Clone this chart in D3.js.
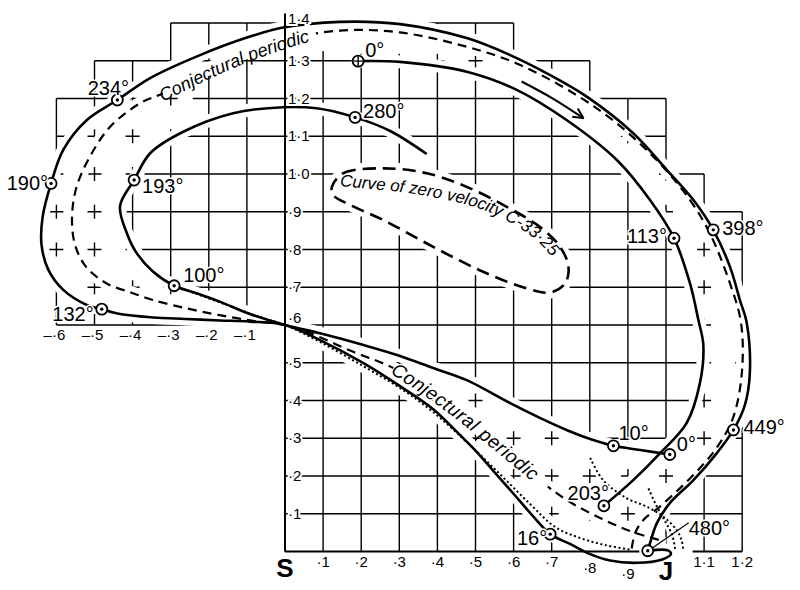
<!DOCTYPE html>
<html><head><meta charset="utf-8">
<script src="https://cdn.jsdelivr.net/npm/d3@7"></script>
<style>body{margin:0;background:#fff}svg{display:block}</style>
</head><body><svg id="c" width="800" height="590"></svg>
<script>
// ---------------- DATA (distance S–J = 1) ----------------
const outerOrbit = [[0.952,0.002],[1.005,0.003],[1.013,-0.007],[0.990,-0.021],[0.924,-0.030],[0.853,-0.024],[0.801,-0.007],[0.748,0.020],[0.696,0.046],[0.648,0.097],[0.598,0.155],[0.556,0.203],[0.503,0.264],[0.446,0.322],[0.389,0.377],[0.302,0.438],[0.206,0.499],[0.092,0.560],[0,0.600],[-0.092,0.609],[-0.171,0.612],[-0.262,0.616],[-0.346,0.620],[-0.433,0.629],[-0.481,0.642],[-0.520,0.653],[-0.582,0.693],[-0.621,0.746],[-0.639,0.812],[-0.636,0.887],[-0.614,0.975],[-0.582,1.064],[-0.520,1.143],[-0.440,1.196],[-0.354,1.254],[-0.223,1.315],[-0.092,1.364],[-0.005,1.388],[0.144,1.403],[0.302,1.397],[0.477,1.360],[0.591,1.315],[0.696,1.262],[0.792,1.205],[0.914,1.108],[1.002,1.011],[1.072,0.931],[1.124,0.852],[1.168,0.754],[1.194,0.666],[1.212,0.605],[1.220,0.472],[1.207,0.388],[1.177,0.322],[1.133,0.260],[1.072,0.189],[1.010,0.128],[0.976,0.075],[0.958,0.022],[0.952,0.002]];
const innerSpiral = [[1.010,0.257],[0.932,0.269],[0.862,0.280],[0.801,0.298],[0.739,0.322],[0.669,0.354],[0.591,0.393],[0.477,0.454],[0.389,0.486],[0.302,0.518],[0.206,0.547],[0.092,0.578],[0,0.600],[-0.092,0.629],[-0.171,0.662],[-0.232,0.684],[-0.291,0.704],[-0.346,0.741],[-0.391,0.793],[-0.415,0.843],[-0.433,0.915],[-0.396,0.984],[-0.354,1.055],[-0.267,1.112],[-0.136,1.161],[-0.004,1.177],[0.083,1.174],[0.184,1.150],[0.276,1.114],[0.372,1.053]];
const topOrbit = [[0.192,1.299],[0.302,1.297],[0.477,1.271],[0.608,1.223],[0.739,1.143],[0.871,1.037],[0.958,0.931],[1.021,0.830],[1.063,0.710],[1.085,0.613],[1.098,0.547],[1.089,0.446],[1.054,0.340],[0.984,0.260],[0.914,0.189],[0.837,0.121]];
const conjecturalOrbit = [[0.910,0.008],[0.919,0.049],[0.940,0.083],[0.984,0.119],[1.037,0.168],[1.089,0.221],[1.136,0.279],[1.176,0.354],[1.199,0.472],[1.197,0.605],[1.168,0.710],[1.115,0.843],[1.063,0.931],[0.984,1.028],[0.871,1.134],[0.757,1.214],[0.608,1.293],[0.477,1.337],[0.302,1.375],[0.144,1.380],[0,1.355],[-0.118,1.316],[-0.223,1.268],[-0.320,1.214],[-0.381,1.187],[-0.459,1.125],[-0.512,1.046],[-0.547,0.966],[-0.559,0.886],[-0.551,0.812],[-0.522,0.754],[-0.468,0.710],[-0.407,0.687],[-0.346,0.666],[-0.258,0.644],[-0.171,0.626],[-0.084,0.611],[0,0.600],[0.057,0.582],[0.179,0.529],[0.284,0.486],[0.407,0.407],[0.564,0.277],[0.678,0.181],[0.748,0.131],[0.827,0.089],[0.906,0.054],[0.984,0.030]];
const dottedOrbit = [[-0.291,0.704],[-0.223,0.679],[-0.144,0.650],[-0.066,0.621],[0,0.600],[0.092,0.555],[0.205,0.491],[0.302,0.433],[0.388,0.370],[0.477,0.290],[0.564,0.205],[0.643,0.126],[0.709,0.065],[0.774,0.036],[0.840,0.017],[0.906,0.005]];
const dottedArcA = [[0.801,0.248],[0.835,0.189],[0.897,0.141],[0.949,0.119],[0.993,0.092],[1.028,0.057],[1.041,0.030],[1.045,0.007]];
const dottedArcB = [[0.954,0.167],[0.974,0.123],[0.997,0.081],[1.016,0.044],[1.024,0.007]];
const zeroVelocity = [[0.123,0.966],[0.153,1.002],[0.258,1.015],[0.372,1.002],[0.477,0.966],[0.582,0.913],[0.669,0.860],[0.722,0.807],[0.744,0.754],[0.735,0.710],[0.696,0.686],[0.634,0.697],[0.520,0.741],[0.389,0.807],[0.258,0.878],[0.171,0.918],[0.127,0.944]];
const arrowLine = [[0.621,1.245],[0.701,1.201],[0.783,1.148]];

const markerX = [0.192,0.184,-0.396,-0.614,-0.440,-0.291,-0.481,1.021,1.124,1.177,0.862,1.010,0.837,0.696,0.952];
const markerY = [1.299,1.150,0.984,0.975,1.196,0.704,0.642,0.830,0.852,0.322,0.280,0.257,0.121,0.046,0.002];
const markerLabels = ["0°","280°","193°","190°","234°","100°","132°","113°","398°","449°","10°","0°","203°","16°","480°"];

const yTickValues = [1.4,1.3,1.2,1.1,1.0,0.9,0.8,0.7,0.6,0.5,0.4,0.3,0.2,0.1];
const yTickLabels = ["1·4","1·3","1·2","1·1","1·0","·9","·8","·7","·6","·5","·4","·3","·2","·1"];
const xTickValues = [0.1,0.2,0.3,0.4,0.5,0.6,0.7,0.8,0.9,1.1,1.2];
const xTickLabels = ["·1","·2","·3","·4","·5","·6","·7","·8","·9","1·1","1·2"];
const negTickValues = [-0.6,-0.5,-0.4,-0.3,-0.2,-0.1];
const negTickLabels = ["–·6","–·5","–·4","–·3","–·2","–·1"];

const gridRows = [1.4,1.3,1.2,1.1,1.0,0.9,0.8,0.7,0.6,0.5,0.4,0.3,0.2,0.1];
const gridRowFrom = [-0.3,-0.5,-0.6,-0.6,-0.6,-0.6,-0.6,-0.6,-0.6,0,0,0,0,0];
const gridRowTo = [0.6,0.8,1.0,1.0,1.1,1.2,1.2,1.2,1.2,1.2,1.2,1.2,1.2,1.2];
const gridCols = [-0.6,-0.5,-0.4,-0.3,-0.2,-0.1,0.1,0.2,0.3,0.4,0.5,0.6,0.7,0.8,0.9,1.0,1.1,1.2];
const gridColFrom = [0.6,0.6,0.6,0.6,0.6,0.6,0,0,0,0,0,0,0,0,0,0,0,0];
const gridColTo = [1.2,1.3,1.3,1.4,1.4,1.4,1.4,1.4,1.4,1.4,1.4,1.4,1.3,1.3,1.2,1.2,1.0,0.9];
const xAxisFrom = [0, 1.07];
const xAxisTo = [0.93, 1.2];

// text guide lines (layout)
const topTextGuide = [[-0.320,1.191],[-0.223,1.241],[-0.118,1.289],[-0.013,1.328],[0.079,1.355]];
const lowTextGuide = [[0.284,0.486],[0.407,0.407],[0.564,0.277],[0.690,0.172]];
const ovalTextGuide = [[0.144,0.968],[0.249,0.958],[0.328,0.950],[0.433,0.931],[0.512,0.910],[0.572,0.883],[0.617,0.857],[0.669,0.820],[0.711,0.767]];

// ---------------- DRAW ----------------
const FONT = "'Liberation Sans', Arial, Helvetica, sans-serif";
const svg = d3.select("#c");
svg.append("rect").attr("width",800).attr("height",590).attr("fill","#fff");
const defs = svg.append("defs");
const x = d3.scaleLinear().domain([0,1]).range([285,666]);
const y = d3.scaleLinear().domain([0,1]).range([551.5,174]);
const line = d3.line().x(d=>x(d[0])).y(d=>y(d[1])).curve(d3.curveCatmullRom.alpha(0.5));
const lineClosed = d3.line().x(d=>x(d[0])).y(d=>y(d[1])).curve(d3.curveCatmullRomClosed.alpha(0.5));
const poly = d3.line().x(d=>x(d[0])).y(d=>y(d[1])).curve(d3.curveLinearClosed);

// band of the orbit (between outer orbit and inner curves): grid shown as crosses only
const innerBoundary = innerSpiral.slice(12,24)
  .concat(conjecturalOrbit.slice(20,23).reverse())
  .concat(topOrbit.slice(0,14))
  .concat(innerSpiral.slice(1,12));
const bandD = poly(outerOrbit) + poly(innerBoundary);
const gm = defs.append("mask").attr("id","gridMask").attr("maskUnits","userSpaceOnUse")
  .attr("x",0).attr("y",0).attr("width",800).attr("height",590);
gm.append("rect").attr("width",800).attr("height",590).attr("fill","#fff");
gm.append("path").attr("d",bandD).attr("fill","#000").attr("fill-rule","evenodd");
defs.append("clipPath").attr("id","bandClip").append("path").attr("d",bandD).attr("clip-rule","evenodd");

// grid lines
const grid = svg.append("g").attr("stroke","#000").attr("stroke-width",1.4).attr("mask","url(#gridMask)");
gridRows.forEach((v,i)=>{
  grid.append("line").attr("x1",x(gridRowFrom[i])).attr("x2",x(gridRowTo[i])).attr("y1",y(v)).attr("y2",y(v));
});
gridCols.forEach((v,i)=>{
  grid.append("line").attr("x1",x(v)).attr("x2",x(v)).attr("y1",y(gridColFrom[i])).attr("y2",y(gridColTo[i]));
});
// crosses inside band
const crosses = svg.append("g").attr("stroke","#000").attr("stroke-width",1.4).attr("clip-path","url(#bandClip)");
const allCols = gridCols.concat([0]);
const allColFrom = gridColFrom.concat([0]), allColTo = gridColTo.concat([1.4]);
gridRows.forEach((ry,i)=>{
  allCols.forEach((cx,j)=>{
    if(cx>=gridRowFrom[i]-1e-6 && cx<=gridRowTo[i]+1e-6 && ry>=allColFrom[j]-1e-6 && ry<=allColTo[j]+1e-6){
      const px=x(cx), py=y(ry);
      crosses.append("path").attr("d",`M${px-7},${py}H${px+7}M${px},${py-7}V${py+7}`);
    }
  });
});

// zero velocity oval interior blank
svg.append("path").attr("d",lineClosed(zeroVelocity)).attr("fill","#fff").attr("stroke","#fff").attr("stroke-width",12);

// halos
const openCurves = [outerOrbit, innerSpiral, topOrbit, conjecturalOrbit, dottedOrbit, dottedArcA, dottedArcB, arrowLine];
const halo = svg.append("g").attr("fill","none").attr("stroke","#fff").attr("stroke-linecap","round");
openCurves.forEach(c=>halo.append("path").attr("d",line(c)).attr("stroke-width", c===dottedArcA||c===dottedArcB?7:13));

// axes
svg.append("line").attr("x1",x(0)).attr("x2",x(0)).attr("y1",y(0)).attr("y2",y(1.425)).attr("stroke","#000").attr("stroke-width",2);
xAxisFrom.forEach((a,i)=>svg.append("line").attr("x1",x(a)).attr("x2",x(xAxisTo[i])).attr("y1",y(0)).attr("y2",y(0))
  .attr("stroke","#000").attr("stroke-width",2));

// gaps in the conjectural curve under its labels
const tline = d3.line().x(d=>x(d[0])).y(d=>y(d[1])).curve(d3.curveBasis);
const tm = defs.append("mask").attr("id","textGap").attr("maskUnits","userSpaceOnUse")
  .attr("x",0).attr("y",0).attr("width",800).attr("height",590);
tm.append("rect").attr("width",800).attr("height",590).attr("fill","#fff");
tm.append("path").attr("d",tline(topTextGuide)).attr("transform","translate(1,-6)").attr("fill","none").attr("stroke","#000").attr("stroke-width",22);
tm.append("path").attr("d",tline(lowTextGuide)).attr("fill","none").attr("stroke","#000").attr("stroke-width",20);

// curves
const cur = svg.append("g").attr("fill","none").attr("stroke","#000");
cur.append("path").attr("d",lineClosed(zeroVelocity)).attr("stroke-width",2.6).attr("stroke-dasharray","13,7");
cur.append("path").attr("d",line(conjecturalOrbit)).attr("stroke-width",2.2).attr("stroke-dasharray","9,6").attr("mask","url(#textGap)");
[dottedOrbit, dottedArcA, dottedArcB].forEach(c=>cur.append("path").attr("d",line(c)).attr("stroke-width",2).attr("stroke-dasharray","2,2.6"));
[outerOrbit, innerSpiral, topOrbit].forEach(c=>cur.append("path").attr("d",line(c)).attr("stroke-width",2.6).attr("stroke-linejoin","round"));

// arrow
defs.append("marker").attr("id","ah").attr("viewBox","0 0 12 12").attr("refX",11).attr("refY",6)
  .attr("markerWidth",12).attr("markerHeight",12).attr("markerUnits","userSpaceOnUse").attr("orient","auto")
  .append("path").attr("d","M1,1 L11,6 L1,11").attr("fill","none").attr("stroke","#000").attr("stroke-width",2);
cur.append("path").attr("d",line(arrowLine)).attr("stroke-width",2.2).attr("marker-end","url(#ah)");

// text along curves
defs.append("path").attr("id","tp1").attr("d",tline(topTextGuide));
defs.append("path").attr("id","tp2").attr("d",tline(lowTextGuide));
defs.append("path").attr("id","tp3").attr("d",tline(ovalTextGuide));
function pathText(id,str,size,dy,ls,offset){
  const t = svg.append("text").attr("font-family",FONT).attr("font-style","italic")
    .attr("font-size",size).attr("dy",dy).attr("letter-spacing",ls).attr("fill","#000");
  t.append("textPath").attr("href","#"+id).attr("startOffset",offset||0).text(str);
  return t;
}
const w1 = pathText("tp1","Conjectural",18,0,0,0);
const w1len = w1.node().getComputedTextLength();
pathText("tp1","periodic",18,0,0,w1len+5);
pathText("tp2","Conjectural periodic",19,6,0.6,0);
pathText("tp3","Curve of zero velocity C-33·25",17,0,0,0);

// markers
const mk = svg.append("g");
markerX.forEach((mx,i)=>{
  const cx = x(mx), cy = y(markerY[i]);
  mk.append("circle").attr("cx",cx).attr("cy",cy).attr("r",5.5).attr("fill","#fff").attr("stroke","#000").attr("stroke-width",1.8);
  if(i===0){
    mk.append("path").attr("d",`M${cx-5},${cy}H${cx+5}M${cx},${cy-5}V${cy+5}`).attr("stroke","#000").attr("stroke-width",1.4);
  } else {
    mk.append("circle").attr("cx",cx).attr("cy",cy).attr("r",1.7).attr("fill","#000");
  }
});
// marker labels
const lDx = [7,8,8,-3,-9,9,-8,-7,9,10,5,7,5,-3,41];
const lDy = [-4,1,13,7,-5,-4,12,5,5,4,-6,-3,-6,11,-16];
const lAnchor = ["start","start","start","end","middle","start","end","end","start","start","start","start","end","end","start"];
const li = markerLabels.length-1;
svg.append("line").attr("x1",x(markerX[li])+5).attr("y1",y(markerY[li])-3)
  .attr("x2",x(markerX[li])+lDx[li]).attr("y2",y(markerY[li])+lDy[li]-12).attr("stroke","#000").attr("stroke-width",1.2);
markerLabels.forEach((s,i)=>{
  svg.append("text").attr("x",x(markerX[i])+lDx[i]).attr("y",y(markerY[i])+lDy[i])
    .attr("text-anchor",lAnchor[i]).attr("font-family",FONT).attr("font-size",20)
    .attr("stroke","#fff").attr("stroke-width",3).attr("paint-order","stroke").text(s);
});

// axis labels
const yOff = yTickValues.map(v=> v===1.4?1:(v===0.6?-2:5));
yTickValues.forEach((v,i)=>{
  svg.append("text").attr("x",x(0)+3).attr("y",y(v)+yOff[i]).attr("font-family",FONT).attr("font-size",15)
    .attr("stroke","#fff").attr("stroke-width",4).attr("paint-order","stroke").text(yTickLabels[i]);
});
xTickValues.forEach((v,i)=>{
  const dy = v===0.8?21.5:(v===0.9?27.5:15.5);
  svg.append("text").attr("x",x(v)).attr("y",y(0)+dy).attr("text-anchor","middle")
    .attr("font-family",FONT).attr("font-size",15).text(xTickLabels[i]);
});
negTickValues.forEach((v,i)=>{
  svg.append("text").attr("x",x(v)-2).attr("y",y(0.6)+15).attr("text-anchor","middle")
    .attr("font-family",FONT).attr("font-size",15).text(negTickLabels[i]);
});
svg.append("text").attr("x",x(0)).attr("y",y(0)+25.5).attr("text-anchor","middle").attr("font-family",FONT)
  .attr("font-weight","bold").attr("font-size",26).text("S");
svg.append("text").attr("x",x(1)).attr("y",y(0)+28.5).attr("text-anchor","middle").attr("font-family",FONT)
  .attr("font-weight","bold").attr("font-size",26).text("J");
</script></body></html>
